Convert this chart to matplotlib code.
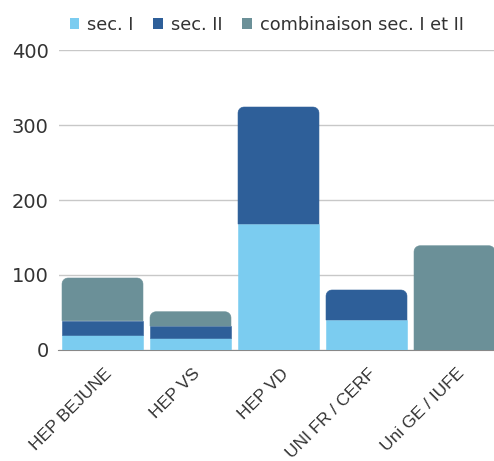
import numpy as np
import matplotlib
matplotlib.use("Agg")
import matplotlib.pyplot as plt
from matplotlib.patches import Polygon, Patch
from matplotlib.transforms import ScaledTranslation

categories = ["HEP BEJUNE", "HEP VS", "HEP VD", "UNI FR / CERF", "Uni GE / IUFE"]
sec1 = [20, 16, 168, 40, 0]
sec2 = [19, 16, 156, 40, 0]
combi = [57, 19, 0, 0, 139]
series_names = ["sec. I", "sec. II", "combinaison sec. I et II"]
colors = ["#7BCCF0", "#2E5F99", "#6B9098"]

fig = plt.figure(figsize=(4.94, 4.61), dpi=100)
ax_l, ax_b, ax_w, ax_h = 58.5 / 494, 0.2408, 440 / 494, 0.6507
ax = fig.add_axes([ax_l, ax_b, ax_w, ax_h])
ax.set_xlim(-0.5, 4.5)
ax.set_ylim(0, 400)

width = 0.92
x = np.arange(len(categories))
# pixel scale, used to get round corners right
px_x = ax_w * 494 / 5.0
px_y = ax_h * 461 / 400.0
rx = 6.0 / px_x
ry = 6.0 / px_y


def rounded_top(x0, y0, w, h):
    x1, y1 = x0 + w, y0 + h
    t = np.linspace(0, np.pi / 2, 10)
    pts = [(x0, y0), (x1, y0)]
    # right corner
    pts += list(zip(x1 - rx + rx * np.cos(t), y1 - ry + ry * np.sin(t)))
    # left corner
    pts += list(zip(x0 + rx - rx * np.cos(t[::-1]), y1 - ry + ry * np.sin(t[::-1])))
    return pts


data = [sec1, sec2, combi]
for i in range(len(categories)):
    bottom = 0
    vals = [d[i] for d in data]
    top_idx = max(k for k in range(3) if vals[k] > 0)
    for k in range(3):
        v = vals[k]
        if v <= 0:
            continue
        x0 = x[i] - width / 2
        if k == top_idx:
            pts = rounded_top(x0, bottom, width, v)
        else:
            pts = [(x0, bottom), (x0 + width, bottom), (x0 + width, bottom + v), (x0, bottom + v)]
        ax.add_patch(Polygon(pts, closed=True, fc=colors[k], ec=colors[k], lw=0.4, zorder=3))
        bottom += v

ax.set_yticks([0, 100, 200, 300, 400])
ax.grid(axis="y", color="#C8C8C8", linewidth=1, zorder=0)
for s in ["top", "right", "left"]:
    ax.spines[s].set_visible(False)
ax.spines["bottom"].set_color("#888888")
ax.tick_params(axis="y", length=0, labelsize=14, labelcolor="#333333", pad=7)
ax.tick_params(axis="x", length=0, pad=0)
ax.set_xticks(x)
ax.set_xticklabels(categories, rotation=45, ha="right", rotation_mode="anchor",
                   fontsize=12.5, color="#333333", family="Liberation Sans")
offset = ScaledTranslation(2 / 100, -16 / 100, fig.dpi_scale_trans)
for lab in ax.get_xticklabels():
    lab.set_transform(lab.get_transform() + offset)

handles = [Patch(fc=c, ec="none") for c in colors]
fig.legend(handles, series_names, loc="upper center", bbox_to_anchor=(0.54, 1.0), ncol=3,
           frameon=False, fontsize=12.8, handlelength=0.55, handleheight=0.55,
           handletextpad=0.45, columnspacing=1.1, labelcolor="#333333")

fig.savefig("out.png", dpi=100)
